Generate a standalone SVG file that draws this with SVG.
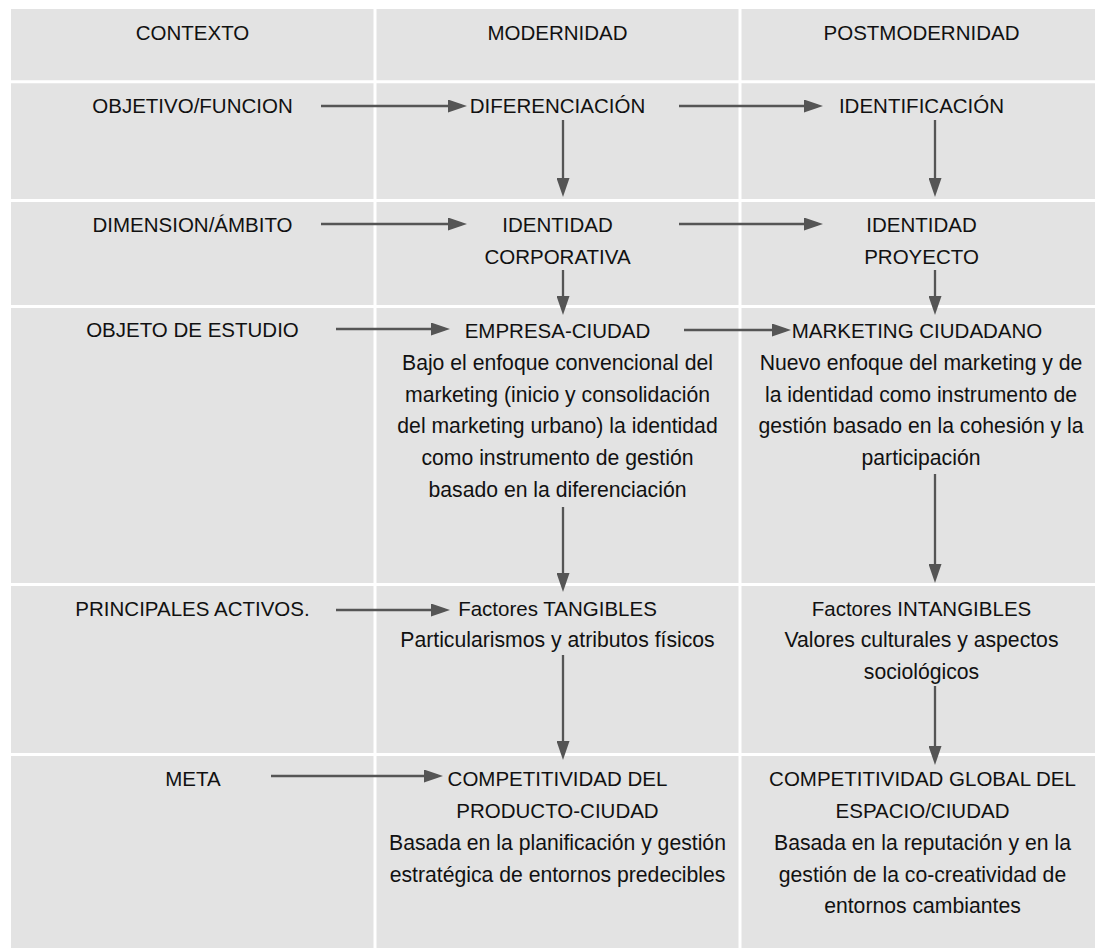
<svg xmlns="http://www.w3.org/2000/svg" width="1095" height="948" viewBox="0 0 1095 948">
  <style>
    text { font-family: "Liberation Sans", Arial, Helvetica, sans-serif; fill: #111; text-anchor: middle; }
    .h { font-size: 20.5px; }
    .b { font-size: 21.2px; }
    .grid { stroke: #ffffff; stroke-width: 3; }
    .conn { stroke: #555555; stroke-width: 2.3; fill: none; marker-end: url(#arrow); }
  </style>
  <defs>
    <marker id="arrow" markerUnits="userSpaceOnUse" markerWidth="19" markerHeight="13" viewBox="0 0 19 13" refX="14" refY="6.5" orient="auto">
      <path d="M0,0 L19,6.5 L0,13 Z" fill="#555555"/>
    </marker>
  </defs>

  <rect x="0" y="0" width="1095" height="948" fill="#ffffff"/>

  <!-- table background and cell separators -->
  <g id="table">
    <rect x="11" y="9" width="1084" height="939" fill="#e3e3e3"/>
    <line class="grid" x1="375" y1="9" x2="375" y2="948"/>
    <line class="grid" x1="740" y1="9" x2="740" y2="948"/>
    <line class="grid" x1="11" y1="81.8" x2="1095" y2="81.8"/>
    <line class="grid" x1="11" y1="200.5" x2="1095" y2="200.5"/>
    <line class="grid" x1="11" y1="306.5" x2="1095" y2="306.5"/>
    <line class="grid" x1="11" y1="584.5" x2="1095" y2="584.5"/>
    <line class="grid" x1="11" y1="754.5" x2="1095" y2="754.5"/>
  </g>

  <!-- column headers -->
  <g id="hdr-contexto"><text class="h" x="192.5" y="40">CONTEXTO</text></g>
  <g id="hdr-modernidad"><text class="h" x="557.5" y="40">MODERNIDAD</text></g>
  <g id="hdr-postmodernidad"><text class="h" x="921.5" y="40">POSTMODERNIDAD</text></g>

  <!-- row labels -->
  <g id="lbl-objetivo"><text class="h" x="192.5" y="113">OBJETIVO/FUNCION</text></g>
  <g id="lbl-dimension"><text class="h" x="192.5" y="232">DIMENSION/ÁMBITO</text></g>
  <g id="lbl-objeto"><text class="h" x="192.5" y="337">OBJETO DE ESTUDIO</text></g>
  <g id="lbl-activos"><text class="h" x="192.5" y="616">PRINCIPALES ACTIVOS.</text></g>
  <g id="lbl-meta"><text class="h" x="193" y="786">META</text></g>

  <!-- modernidad column -->
  <g id="mod-diferenciacion"><text class="h" x="557.5" y="113">DIFERENCIACIÓN</text></g>
  <g id="mod-identidad">
    <text class="h" x="557.5" y="232">IDENTIDAD</text>
    <text class="h" x="557.5" y="264">CORPORATIVA</text>
  </g>
  <g id="mod-empresa">
    <text class="h" x="557.5" y="338">EMPRESA-CIUDAD</text>
    <text class="b" x="557.5" y="370">Bajo el enfoque convencional del</text>
    <text class="b" x="557.5" y="401.7">marketing (inicio y consolidación</text>
    <text class="b" x="557.5" y="433.3">del marketing urbano) la identidad</text>
    <text class="b" x="557.5" y="465">como instrumento de gestión</text>
    <text class="b" x="557.5" y="496.7">basado en la diferenciación</text>
  </g>
  <g id="mod-tangibles">
    <text class="h" x="557.5" y="616">Factores TANGIBLES</text>
    <text class="b" x="557.5" y="647">Particularismos y atributos físicos</text>
  </g>
  <g id="mod-competitividad">
    <text class="h" x="557.5" y="786">COMPETITIVIDAD DEL</text>
    <text class="h" x="557.5" y="818">PRODUCTO-CIUDAD</text>
    <text class="b" x="557.5" y="850">Basada en la planificación y gestión</text>
    <text class="b" x="557.5" y="882">estratégica de entornos predecibles</text>
  </g>

  <!-- postmodernidad column -->
  <g id="post-identificacion"><text class="h" x="921.5" y="113">IDENTIFICACIÓN</text></g>
  <g id="post-identidad">
    <text class="h" x="921.5" y="232">IDENTIDAD</text>
    <text class="h" x="921.5" y="264">PROYECTO</text>
  </g>
  <g id="post-marketing">
    <text class="h" x="917" y="338">MARKETING CIUDADANO</text>
    <text class="b" x="921" y="370">Nuevo enfoque del marketing y de</text>
    <text class="b" x="921" y="401.7">la identidad como instrumento de</text>
    <text class="b" x="921" y="433.3">gestión basado en la cohesión y la</text>
    <text class="b" x="921" y="465">participación</text>
  </g>
  <g id="post-intangibles">
    <text class="h" x="921.5" y="616">Factores INTANGIBLES</text>
    <text class="b" x="921.5" y="647">Valores culturales y aspectos</text>
    <text class="b" x="921.5" y="679">sociológicos</text>
  </g>
  <g id="post-competitividad">
    <text class="h" x="922.5" y="786">COMPETITIVIDAD GLOBAL DEL</text>
    <text class="h" x="922.5" y="818">ESPACIO/CIUDAD</text>
    <text class="b" x="922.5" y="850">Basada en la reputación y en la</text>
    <text class="b" x="922.5" y="882">gestión de la co-creatividad de</text>
    <text class="b" x="922.5" y="913">entornos cambiantes</text>
  </g>

  <!-- connectors: line ends sit 5px short of the arrow tip -->
  <g id="connectors">
    <line class="conn" x1="321" y1="106" x2="462" y2="106"/>
    <line class="conn" x1="679" y1="106" x2="818" y2="106"/>
    <line class="conn" x1="321" y1="224" x2="462" y2="224"/>
    <line class="conn" x1="679" y1="224" x2="818" y2="224"/>
    <line class="conn" x1="336" y1="329" x2="445" y2="329"/>
    <line class="conn" x1="684" y1="330" x2="786" y2="330"/>
    <line class="conn" x1="336" y1="610" x2="445" y2="610"/>
    <line class="conn" x1="271" y1="776" x2="438" y2="776"/>

    <line class="conn" x1="563" y1="120" x2="563" y2="192"/>
    <line class="conn" x1="563" y1="270" x2="563" y2="310"/>
    <line class="conn" x1="563" y1="507" x2="563" y2="587"/>
    <line class="conn" x1="563" y1="655" x2="563" y2="755"/>

    <line class="conn" x1="935" y1="120" x2="935" y2="192"/>
    <line class="conn" x1="935" y1="270" x2="935" y2="310"/>
    <line class="conn" x1="935" y1="474" x2="935" y2="578"/>
    <line class="conn" x1="935" y1="686" x2="935" y2="760"/>
  </g>
</svg>
